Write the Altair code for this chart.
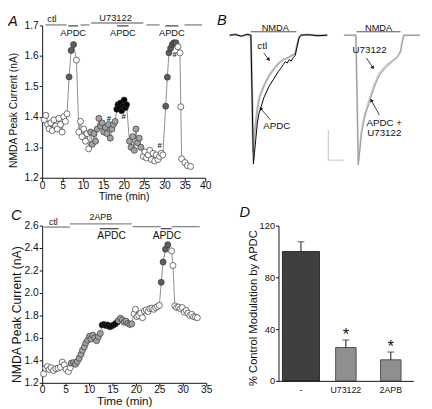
import math
import altair as alt
import pandas as pd

FONT = "Liberation Sans"
FILL_DOMAIN = ["wash", "drug", "APDC", "both"]
FILL_RANGE = ["#ffffff", "#a3a3a3", "#5e5e5e", "#000000"]

# ---------------- Panel A data (time min, NMDA peak current nA) ----------------
a_ctl_t = [0.5, 0.9, 1.3, 1.7, 2.1, 2.5, 2.9, 3.3, 3.7, 4.1, 4.5, 4.9, 5.3, 5.7, 6.1]
a_ctl_v = [1.39, 1.405, 1.375, 1.36, 1.38, 1.355, 1.39, 1.37, 1.36, 1.395, 1.375, 1.35, 1.40, 1.385, 1.41]
a_apdc1_t = [6.6, 7.1, 7.7]
a_apdc1_v = [1.531, 1.618, 1.637]
a_wash1_t = [8.4, 9.0, 9.4, 9.8, 10.2, 10.6, 11.0, 11.4]
a_wash1_v = [1.586, 1.35, 1.385, 1.335, 1.36, 1.32, 1.345, 1.295]
a_u73_t = [11.9, 12.3, 12.7, 13.1, 13.5, 13.9, 14.3, 14.7, 15.1, 15.5, 15.9, 16.3, 16.7, 17.1, 17.5, 17.9]
a_u73_v = [1.35, 1.31, 1.345, 1.32, 1.36, 1.395, 1.37, 1.38, 1.35, 1.365, 1.345, 1.375, 1.33, 1.36, 1.375, 1.385]
a_both_t = [18.3, 18.6, 18.9, 19.2, 19.5, 19.8, 20.1, 20.4, 20.7]
a_both_v = [1.425, 1.44, 1.43, 1.445, 1.42, 1.435, 1.455, 1.43, 1.44]
a_u73b_t = [21.4, 21.8, 22.2, 22.6, 23.0, 23.4, 23.8, 24.2]
a_u73b_v = [1.32, 1.30, 1.335, 1.29, 1.36, 1.315, 1.33, 1.30]
a_wash2_t = [24.8, 25.2, 25.6, 26.0, 26.4, 26.8, 27.2, 27.6, 28.0, 28.4, 28.8, 29.2, 29.6]
a_wash2_v = [1.27, 1.285, 1.265, 1.275, 1.29, 1.26, 1.28, 1.255, 1.275, 1.26, 1.27, 1.28, 1.275]
a_apdc2_t = [30.3, 30.7, 31.1, 31.5, 31.9, 32.3, 32.8]
a_apdc2_v = [1.435, 1.53, 1.61, 1.625, 1.637, 1.643, 1.643]
a_wash3_t = [33.3, 33.8, 34.0, 34.2, 35.0, 35.6, 36.4]
a_wash3_v = [1.63, 1.61, 1.433, 1.262, 1.25, 1.24, 1.237]

a_hash_t = [16.4, 20.0, 28.8, 32.5]
a_hash_v = [1.394, 1.399, 1.304, 1.604]

a_bar_t0 = [0.8, 9.4, 12.0, 25.6, 34.9]
a_bar_t1 = [6.0, 11.6, 24.8, 28.8, 39.2]
a_bar_lvl = [1.7016, 1.7016, 1.708, 1.7016, 1.7016]
a_apdcbar_t0 = [6.4, 18.4, 30.2]
a_apdcbar_t1 = [8.8, 21.2, 33.4]
a_apdcbar_lvl = [1.6984, 1.6984, 1.6984]
a_top_lab = ["ctl", "U73122"]
a_top_t = [2.4, 18.0]
a_top_v = [1.7208, 1.724]
a_apdclab = ["APDC", "APDC", "APDC"]
a_apdclab_t = [7.6, 19.8, 31.8]
a_apdclab_v = [1.676, 1.676, 1.676]

# ---------------- Panel C data ----------------
c_ctl_t = [0.3, 0.7, 1.1, 1.5, 1.9, 2.4, 2.9, 3.4, 3.9, 4.3, 4.7, 5.1, 5.6, 6.0]
c_ctl_v = [1.28, 1.33, 1.345, 1.32, 1.335, 1.31, 1.325, 1.33, 1.34, 1.385, 1.36, 1.32, 1.30, 1.335]
c_apb_t = [6.2, 6.7, 7.1, 7.5, 7.9, 8.3, 8.6, 9.0, 9.3, 9.7, 10.1, 10.4, 10.8, 11.2, 11.6, 12.0, 12.4]
c_apb_v = [1.375, 1.38, 1.365, 1.39, 1.42, 1.455, 1.49, 1.52, 1.555, 1.58, 1.615, 1.59, 1.625, 1.60, 1.575, 1.61, 1.64]
c_both_t = [12.8, 13.2, 13.6, 14.0, 14.4, 14.8, 15.2, 15.6, 16.0]
c_both_v = [1.715, 1.72, 1.71, 1.715, 1.70, 1.705, 1.715, 1.725, 1.74]
c_apb2_t = [16.3, 16.7, 17.1, 17.5, 17.9, 18.3, 18.7, 19.1]
c_apb2_v = [1.755, 1.775, 1.76, 1.74, 1.75, 1.73, 1.72, 1.725]
c_wash1_t = [19.6, 19.9, 20.2, 20.6, 21.0, 21.4, 21.8, 22.2, 22.6, 23.0, 23.4, 23.8, 24.2, 24.6, 25.0]
c_wash1_v = [1.815, 1.855, 1.79, 1.80, 1.82, 1.78, 1.84, 1.85, 1.835, 1.86, 1.865, 1.855, 1.87, 1.88, 1.89]
c_apdc_t = [25.4, 25.8, 26.3, 26.8]
c_apdc_v = [2.095, 2.275, 2.39, 2.43]
c_wash2_t = [27.6, 27.9, 28.3, 28.7, 29.1, 29.5, 29.9, 30.3, 30.7, 31.1, 31.5, 31.9, 32.3, 32.7, 33.1]
c_wash2_v = [2.375, 2.245, 1.885, 1.87, 1.875, 1.86, 1.87, 1.83, 1.845, 1.82, 1.80, 1.81, 1.79, 1.785, 1.78]

c_bar_t0 = [0.35, 5.9, 19.3, 27.6]
c_bar_t1 = [5.9, 19.1, 25.3, 33.6]
c_bar_lvl = [2.587, 2.615, 2.591, 2.591]
c_apdcbar_t0 = [12.3, 25.3]
c_apdcbar_t1 = [16.3, 27.6]
c_apdcbar_lvl = [2.572, 2.572]
c_top_lab = ["ctl", "2APB"]
c_top_t = [2.4, 12.5]
c_top_v = [2.635, 2.678]
c_apdclab = ["APDC", "APDC"]
c_apdclab_t = [14.8, 26.6]
c_apdclab_v = [2.504, 2.504]

# ---------------- Panel B traces (time ms, current nA) ----------------
b_ctl_t = [0, 6, 12, 18, 21.7, 23, 24.0, 25.5, 26.7, 28.3, 30, 31.7, 35, 40, 45, 50, 55, 60, 65, 67, 69, 71, 73, 80, 90, 100]
b_ctl_i = [0, 0.01, -0.01, 0.005, 0, -0.6, -1.20, -1.0, -0.90, -0.76, -0.66, -0.60, -0.52, -0.42, -0.35, -0.29, -0.25, -0.23, -0.20, -0.19, -0.10, -0.02, 0, 0.005, -0.005, 0]
b_apdc_t = [0, 6, 12, 18, 21.7, 23, 24.3, 25.5, 26.7, 28.3, 30, 31.7, 35, 40, 45, 50, 53, 55, 57, 59, 61, 63, 65, 67, 69, 71, 73, 80, 90, 100]
b_apdc_i = [0, 0.005, -0.01, 0.01, 0, -0.65, -1.32, -1.2, -1.07, -0.90, -0.80, -0.75, -0.64, -0.53, -0.45, -0.37, -0.33, -0.30, -0.27, -0.285, -0.25, -0.265, -0.23, -0.21, -0.12, -0.03, 0, 0.005, -0.005, 0]
b_u73_t = [117, 122, 127, 129.3, 130.5, 131.7, 133.3, 135, 138.3, 143.3, 148.3, 153.3, 160, 166.7, 171.7, 175, 176.7, 178.3, 185, 195]
b_u73_i = [0, 0.005, -0.005, 0, -0.65, -1.30, -1.15, -0.98, -0.81, -0.65, -0.50, -0.39, -0.31, -0.26, -0.22, -0.16, -0.07, 0, 0.005, 0]
b_both_t = [117, 122, 127, 129.3, 130.5, 131.7, 133.3, 135, 138.3, 143.3, 148.3, 153.3, 160, 166.7, 171.7, 175, 176.7, 178.3, 185, 195]
b_both_i = [0, -0.005, 0.005, 0, -0.67, -1.33, -1.18, -1.01, -0.84, -0.68, -0.53, -0.41, -0.33, -0.27, -0.23, -0.17, -0.07, 0, -0.005, 0]

b_nmda_t0 = [21.7, 130]
b_nmda_t1 = [68.3, 175]
b_nmda_lvl = [0.035, 0.035]
b_nmda_lab_t = [46.7, 152.5]
b_nmda_lab_i = [0.075, 0.075]

b_lab = ["ctl", "APDC", "U73122", "APDC +", "U73122"]
b_lab_t = [33.3, 48.3, 143.3, 158.3, 158.3]
b_lab_i = [-0.107, -0.933, -0.15, -0.90, -1.0]
b_arrow_t0 = [35, 41.7, 140, 153.3]
b_arrow_i0 = [-0.183, -0.867, -0.233, -0.817]
b_arrow_t1 = [40, 31.7, 146.7, 145]
b_arrow_i1 = [-0.25, -0.75, -0.333, -0.667]

b_scale_t0 = [101, 101]
b_scale_t1 = [101, 117]
b_scale_i0 = [-0.97, -1.28]
b_scale_i1 = [-1.28, -1.28]

# ---------------- Panel D data ----------------
d_cat = ["-", "U73122", "2APB"]
d_mean = [100, 25.8, 16.3]
d_sem = [7.5, 5.8, 6.0]
d_star = ["", "*", "*"]


def series_frame(parts):
    rows = []
    for cond, ts, vs in parts:
        for t, v in zip(ts, vs):
            rows.append({"t": t, "v": v, "cond": cond, "idx": len(rows)})
    return pd.DataFrame(rows)


def course_panel(points, bars, apdcbars, toplabs, apdclabs, hashes, xdom, xticks, ydom, yticks,
                 w, h, letter, letter_dx, letter_offset, ytitle_size, ytitle_pad, xtitle_size,
                 top_size, apdc_size, ytitle_y, xtick_size, xtitle_pad):
    x = alt.X("t:Q", scale=alt.Scale(domain=xdom, nice=False, zero=False),
              axis=alt.Axis(values=xticks, title="Time (min)", titleFontSize=xtitle_size,
                            labelFontSize=10.5, tickSize=xtick_size, labelPadding=-1,
                            titlePadding=xtitle_pad, labelFlush=False))
    y = alt.Y("v:Q", scale=alt.Scale(domain=ydom, nice=False, zero=False),
              axis=alt.Axis(values=yticks, format=".1f", title="NMDA Peak Current (nA)",
                            titleFontSize=ytitle_size, titlePadding=ytitle_pad, titleY=ytitle_y,
                            labelFontSize=10.5, tickSize=3, labelPadding=1, labelFlush=False))
    base = alt.Chart(points)
    line = base.mark_line(color="#707070", strokeWidth=0.8).encode(x=x, y=y, order="idx:Q")
    dots = base.mark_circle(size=38, opacity=1, stroke="#333333", strokeWidth=0.7).encode(
        x=x, y=y,
        fill=alt.Fill("cond:N", scale=alt.Scale(domain=FILL_DOMAIN, range=FILL_RANGE), legend=None))
    bar_l = alt.Chart(bars).mark_rule(color="#8a8a8a", strokeWidth=1.4).encode(x=x, x2="t1:Q", y=y)
    apdc_l = alt.Chart(apdcbars).mark_rule(color="#111111", strokeWidth=1).encode(x=x, x2="t1:Q", y=y)
    top_l = alt.Chart(toplabs).mark_text(font=FONT, fontSize=top_size, color="#111").encode(
        x=x, y=y, text="label:N")
    apdc_t = alt.Chart(apdclabs).mark_text(font=FONT, fontSize=apdc_size, color="#111").encode(
        x=x, y=y, text="label:N")
    layers = [line, dots, bar_l, apdc_l, top_l, apdc_t]
    if hashes is not None:
        layers.append(alt.Chart(hashes).mark_text(font=FONT, fontSize=8, fontWeight="bold",
                                                  color="#222").encode(x=x, y=y, text="label:N"))
    return alt.layer(*layers).properties(
        width=w, height=h,
        title=alt.TitleParams(letter, dx=letter_dx, offset=letter_offset))


# ---- Panel A ----
a_points = series_frame([
    ("wash", a_ctl_t, a_ctl_v), ("APDC", a_apdc1_t, a_apdc1_v), ("wash", a_wash1_t, a_wash1_v),
    ("drug", a_u73_t, a_u73_v), ("both", a_both_t, a_both_v), ("drug", a_u73b_t, a_u73b_v),
    ("wash", a_wash2_t, a_wash2_v), ("APDC", a_apdc2_t, a_apdc2_v), ("wash", a_wash3_t, a_wash3_v)])
a_bars = pd.DataFrame({"t": a_bar_t0, "t1": a_bar_t1, "v": a_bar_lvl})
a_apdcbars = pd.DataFrame({"t": a_apdcbar_t0, "t1": a_apdcbar_t1, "v": a_apdcbar_lvl})
a_toplabs = pd.DataFrame({"t": a_top_t, "v": a_top_v, "label": a_top_lab})
a_apdclabs = pd.DataFrame({"t": a_apdclab_t, "v": a_apdclab_v, "label": a_apdclab})
a_hashes = pd.DataFrame({"t": a_hash_t, "v": a_hash_v, "label": ["#"] * len(a_hash_t)})

panel_a = course_panel(a_points, a_bars, a_apdcbars, a_toplabs, a_apdclabs, a_hashes,
                       [0, 40], [0, 5, 10, 15, 20, 25, 30, 35, 40], [1.2, 1.7],
                       [1.2, 1.3, 1.4, 1.5, 1.6, 1.7], 167, 156, "A", -35, -16,
                       10.5, 6, 11, 9.5, 9.5, 86.5, 4, 0)

# ---- Panel C ----
c_points = series_frame([
    ("wash", c_ctl_t, c_ctl_v), ("drug", c_apb_t, c_apb_v), ("both", c_both_t, c_both_v),
    ("drug", c_apb2_t, c_apb2_v), ("wash", c_wash1_t, c_wash1_v), ("APDC", c_apdc_t, c_apdc_v),
    ("wash", c_wash2_t, c_wash2_v)])
c_bars = pd.DataFrame({"t": c_bar_t0, "t1": c_bar_t1, "v": c_bar_lvl})
c_apdcbars = pd.DataFrame({"t": c_apdcbar_t0, "t1": c_apdcbar_t1, "v": c_apdcbar_lvl})
c_toplabs = pd.DataFrame({"t": c_top_t, "v": c_top_v, "label": c_top_lab})
c_apdclabs = pd.DataFrame({"t": c_apdclab_t, "v": c_apdclab_v, "label": c_apdclab})

panel_c = course_panel(c_points, c_bars, c_apdcbars, c_toplabs, c_apdclabs, None,
                       [0, 35], [0, 5, 10, 15, 20, 25, 30, 35], [1.2, 2.6],
                       [1.2, 1.4, 1.6, 1.8, 2.0, 2.2, 2.4, 2.6], 168, 161, "C", -32, -10,
                       12.5, 1, 12, 9, 10.5, 90.7, 3, 0.5)

# ---- Panel B ----
bx = alt.X("t:Q", scale=alt.Scale(domain=[0, 195], nice=False, zero=False), axis=None)
by = alt.Y("i:Q", scale=alt.Scale(domain=[-1.35, 0.1], nice=False, zero=False), axis=None)

trace_styles = [
    ("ctl", b_ctl_t, b_ctl_i, "#b4b4b4", 2.2),
    ("APDC", b_apdc_t, b_apdc_i, "#000000", 1.0),
    ("U73122", b_u73_t, b_u73_i, "#cfcfcf", 2.0),
    ("APDC + U73122", b_both_t, b_both_i, "#9a9a9a", 1.0),
]
b_layers = []
for name, ts, vals, col, sw in trace_styles:
    tdf = pd.DataFrame({"t": ts, "i": vals, "idx": list(range(len(ts)))})
    b_layers.append(alt.Chart(tdf).mark_line(color=col, strokeWidth=sw).encode(
        x=bx, y=by, order="idx:Q"))

nmda_df = pd.DataFrame({"t": b_nmda_t0, "t1": b_nmda_t1, "i": b_nmda_lvl})
b_layers.append(alt.Chart(nmda_df).mark_rule(color="#222", strokeWidth=0.8).encode(
    x=bx, x2="t1:Q", y=by))
nmda_lab = pd.DataFrame({"t": b_nmda_lab_t, "i": b_nmda_lab_i, "label": ["NMDA", "NMDA"]})
b_layers.append(alt.Chart(nmda_lab).mark_text(font=FONT, fontSize=9.5, color="#111").encode(
    x=bx, y=by, text="label:N"))

scale_df = pd.DataFrame({"t": b_scale_t0, "t1": b_scale_t1, "i": b_scale_i0, "i1": b_scale_i1})
b_layers.append(alt.Chart(scale_df).mark_rule(color="#c4c4c4", strokeWidth=1).encode(
    x=bx, x2="t1:Q", y=by, y2="i1:Q"))

lab_df = pd.DataFrame({"t": b_lab_t, "i": b_lab_i, "label": b_lab})
b_layers.append(alt.Chart(lab_df).mark_text(font=FONT, fontSize=10, color="#111").encode(
    x=bx, y=by, text="label:N"))

PX_PER_T = 195 / 195.0
PX_PER_I = 145 / 1.45
angles = []
for t0, i0, t1, i1 in zip(b_arrow_t0, b_arrow_i0, b_arrow_t1, b_arrow_i1):
    ddx = (t1 - t0) * PX_PER_T
    ddy = -(i1 - i0) * PX_PER_I
    angles.append(math.degrees(math.atan2(ddx, -ddy)) % 360)
arrow_df = pd.DataFrame({"t": b_arrow_t0, "i": b_arrow_i0, "t1": b_arrow_t1, "i1": b_arrow_i1})
b_layers.append(alt.Chart(arrow_df).mark_rule(color="#111", strokeWidth=0.8).encode(
    x=bx, y=by, x2="t1:Q", y2="i1:Q"))
head_df = pd.DataFrame({"t": b_arrow_t1, "i": b_arrow_i1, "ang": angles})
b_layers.append(alt.Chart(head_df).mark_point(shape="triangle-up", filled=True, size=16,
                                              color="#111", opacity=1).encode(
    x=bx, y=by, angle=alt.Angle("ang:Q", scale=None)))

panel_b = alt.layer(*b_layers).properties(
    width=195, height=145, title=alt.TitleParams("B", dx=-13, offset=-5))

# ---- Panel D ----
d_df = pd.DataFrame({"cat": d_cat, "mean": d_mean, "sem": d_sem, "star": d_star})
dx_enc = alt.X("cat:N", sort=d_cat, scale=alt.Scale(paddingOuter=0, paddingInner=0),
               axis=alt.Axis(title=None, labelAngle=0, ticks=False, labelFontSize=9,
                             labelPadding=5))
dy_enc = alt.Y("mean:Q", scale=alt.Scale(domain=[0, 120], nice=False),
               axis=alt.Axis(values=[0, 20, 40, 60, 80, 100, 120],
                             title="% Control Modulation by APDC", titleFontSize=11.5,
                             titlePadding=1, titleY=84, labelFontSize=9.5, tickSize=3,
                             labelPadding=1, labelFlush=False))
d_base = alt.Chart(d_df).transform_calculate(top="datum.mean + datum.sem")
d_dark = d_base.transform_filter(alt.datum.cat == "-").mark_bar(
    size=38, color="#3f3f3f", stroke="#111", strokeWidth=0.8).encode(x=dx_enc, y=dy_enc)
d_grey = d_base.transform_filter(alt.datum.cat != "-").mark_bar(
    size=21, color="#8f8f8f", stroke="#333", strokeWidth=0.8).encode(x=dx_enc, y=dy_enc)
d_err = d_base.mark_rule(color="#111", strokeWidth=1).encode(x=dx_enc, y=dy_enc, y2="top:Q")
d_cap = d_base.mark_tick(color="#111", size=7, thickness=1).encode(
    x=dx_enc, y=alt.Y("top:Q"))
d_ast = d_base.mark_text(font=FONT, fontSize=17, color="#111", baseline="bottom", dy=4).encode(
    x=dx_enc, y=alt.Y("top:Q"), text="star:N")
panel_d = alt.layer(d_dark, d_grey, d_err, d_cap, d_ast).properties(
    width=138, height=159, title=alt.TitleParams("D", dx=-40, offset=0.7))

top_row = alt.hconcat(panel_a, panel_b, spacing=6)
bottom_row = alt.hconcat(panel_c, panel_d, spacing=28)

chart = alt.vconcat(top_row, bottom_row, spacing=3).properties(
    padding={"left": 0, "top": 0, "right": 0, "bottom": 0}
).configure_view(stroke=None).configure_axis(
    labelFont=FONT, titleFont=FONT, labelColor="#111", titleColor="#111",
    domainColor="#111", tickColor="#111", titleFontWeight="normal", grid=False,
    domainWidth=1, tickWidth=1
).configure_title(
    font=FONT, fontSize=15, fontStyle="italic", fontWeight="normal", anchor="start",
    frame="group", color="#111"
)

chart.save("out.html", embed_options={"renderer": "svg", "actions": False})
